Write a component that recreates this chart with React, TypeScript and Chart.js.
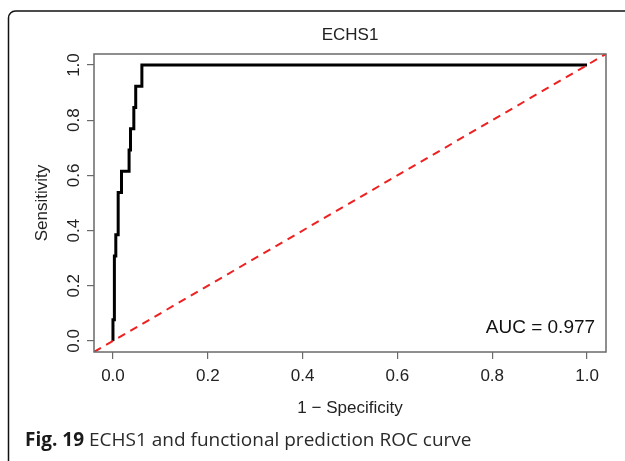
import React, { useEffect, useRef } from "react";
import { Chart, registerables } from "chart.js";

Chart.register(...registerables);

// ROC curve corner points (1 - specificity, sensitivity)
const fpr = [0, 0, 0.003, 0.003, 0.006, 0.006, 0.011, 0.011, 0.018, 0.018, 0.034, 0.034, 0.037, 0.037, 0.044, 0.044, 0.048, 0.048, 0.061, 0.061, 1.0];
const tpr = [0, 0.077, 0.077, 0.308, 0.308, 0.385, 0.385, 0.538, 0.538, 0.615, 0.615, 0.692, 0.692, 0.769, 0.769, 0.846, 0.846, 0.923, 0.923, 1.0, 1.0];

const axisMin = -0.04;
const axisMax = 1.04;
const diagX = [axisMin, axisMax];
const diagY = [axisMin, axisMax];

const xTickValues = [0, 0.2, 0.4, 0.6, 0.8, 1.0];
const xTickLabels = ["0.0", "0.2", "0.4", "0.6", "0.8", "1.0"];
const yTickValues = [0, 0.2, 0.4, 0.6, 0.8, 1.0];
const yTickLabels = ["0.0", "0.2", "0.4", "0.6", "0.8", "1.0"];

const chartTitle = "ECHS1";
const xTitle = "1 \u2212 Specificity";
const yTitle = "Sensitivity";
const aucLabel = "AUC = 0.977";
const captionBold = "Fig. 19";
const captionText = " ECHS1 and functional prediction ROC curve";

const FONT = "'Liberation Sans', Arial, Helvetica, sans-serif";
const FS = 17;

const decorPlugin = {
  id: "decor",
  afterDraw(chart: any) {
    const ctx = chart.ctx as CanvasRenderingContext2D;
    const ca = chart.chartArea;
    const ys = chart.scales.y;
    const xs = chart.scales.x;
    ctx.save();
    // plot box
    ctx.strokeStyle = "#6a6a6a";
    ctx.lineWidth = 1.5;
    ctx.strokeRect(ca.left, ca.top, ca.right - ca.left, ca.bottom - ca.top);
    // y tick labels (rotated like R)
    ctx.fillStyle = "#222";
    ctx.font = `${FS}px ${FONT}`;
    ctx.textAlign = "center";
    ctx.textBaseline = "middle";
    yTickValues.forEach((v, i) => {
      const py = ys.getPixelForValue(v);
      ctx.save();
      ctx.translate(74, py);
      ctx.rotate(-Math.PI / 2);
      ctx.fillText(yTickLabels[i], 0, 0);
      ctx.restore();
    });
    // AUC label
    ctx.font = `19px ${FONT}`;
    ctx.textAlign = "right";
    ctx.textBaseline = "middle";
    ctx.fillStyle = "#111";
    ctx.fillText(aucLabel, xs.getPixelForValue(1.017), ys.getPixelForValue(0.047));
    // outer frame
    ctx.strokeStyle = "#111";
    ctx.lineWidth = 1.5;
    const r = 7;
    const fx = 8.5;
    const fy = 11;
    ctx.beginPath();
    ctx.moveTo(fx, 470);
    ctx.lineTo(fx, fy + r);
    ctx.arcTo(fx, fy, fx + r, fy, r);
    ctx.lineTo(640, fy);
    ctx.stroke();
    // caption
    ctx.textAlign = "left";
    ctx.textBaseline = "alphabetic";
    ctx.fillStyle = "#1a1a1a";
    ctx.font = `bold 19px 'Open Sans', sans-serif`;
    ctx.fillText(captionBold, 25, 446);
    const w = ctx.measureText(captionBold).width;
    ctx.font = `19px 'Open Sans', sans-serif`;
    ctx.fillStyle = "#2a2a2a";
    ctx.fillText(captionText, 25 + w, 446);
    ctx.restore();
  },
};

export default function App() {
  const ref = useRef<HTMLCanvasElement>(null);
  useEffect(() => {
    if (!ref.current) return;
    const chart = new Chart(ref.current, {
      type: "scatter",
      data: {
        datasets: [
          {
            data: diagX.map((x, i) => ({ x, y: diagY[i] })),
            showLine: true,
            borderColor: "#f02020",
            borderWidth: 2,
            borderDash: [8, 6],
            pointRadius: 0,
            order: 0,
          },
          {
            data: fpr.map((x, i) => ({ x, y: tpr[i] })),
            showLine: true,
            borderColor: "#000",
            borderWidth: 3,
            borderJoinStyle: "miter",
            pointRadius: 0,
            order: 1,
          },
        ],
      },
      options: {
        animation: false,
        responsive: false,
        devicePixelRatio: 1,
        layout: { padding: { left: 0, right: 19, top: 0, bottom: 0 } },
        plugins: {
          legend: { display: false },
          tooltip: { enabled: false },
          title: {
            display: true,
            text: chartTitle,
            fullSize: false,
            color: "#222",
            font: { family: FONT, size: FS, weight: "normal" },
            padding: { top: 24.8, bottom: 8.8 },
          },
        },
        scales: {
          x: {
            type: "linear",
            min: axisMin,
            max: axisMax,
            afterBuildTicks: (s: any) => {
              s.ticks = xTickValues.map((v) => ({ value: v }));
            },
            afterFit: (s: any) => {
              s.height = 109;
            },
            ticks: {
              callback: (_v: any, i: number) => xTickLabels[i],
              font: { family: FONT, size: FS },
              color: "#222",
              padding: 6.8,
              maxRotation: 0,
              autoSkip: false,
            },
            grid: { drawOnChartArea: false, tickLength: 7, color: "#6a6a6a", lineWidth: 1.2 },
            border: { display: false },
            title: {
              display: true,
              text: xTitle,
              color: "#222",
              font: { family: FONT, size: FS },
              padding: { top: 0, bottom: 42.8 },
            },
          },
          y: {
            type: "linear",
            min: axisMin,
            max: axisMax,
            afterBuildTicks: (s: any) => {
              s.ticks = yTickValues.map((v) => ({ value: v }));
            },
            afterFit: (s: any) => {
              s.width = 94;
            },
            ticks: { display: false },
            grid: { drawOnChartArea: false, tickLength: 7, color: "#6a6a6a", lineWidth: 1.2 },
            border: { display: false },
            title: {
              display: true,
              text: yTitle,
              color: "#222",
              font: { family: FONT, size: FS },
              padding: { top: 31.8, bottom: 0 },
            },
          },
        },
      },
      plugins: [decorPlugin],
    } as any);
    return () => chart.destroy();
  }, []);
  return (
    <div style={{ position: "absolute", left: 0, top: 0, width: 625, height: 461, background: "#fff" }}>
      <canvas ref={ref} width={625} height={461} style={{ display: "block" }} />
    </div>
  );
}
